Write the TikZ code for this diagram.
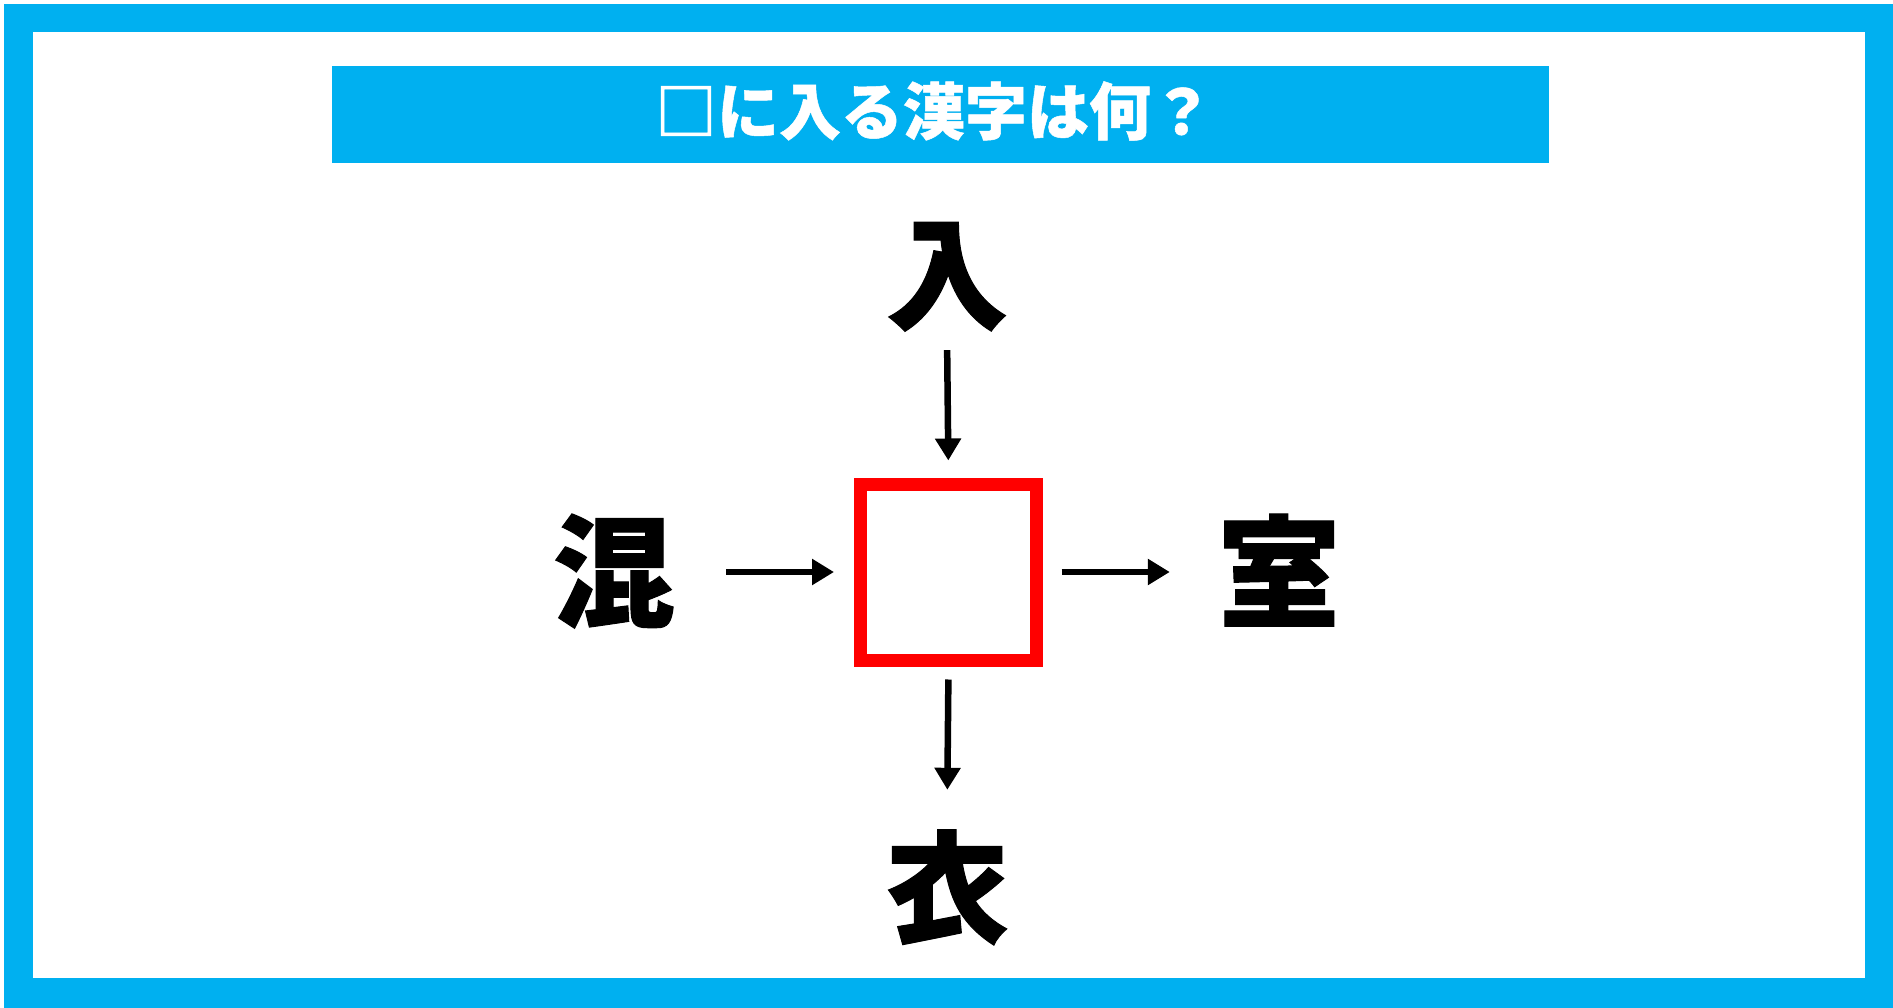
\documentclass[tikz,border=0pt]{standalone}
\usepackage{fontspec}
\newfontfamily\cjk{Noto Sans CJK JP}[BoldFeatures={FakeBold=0.8}]
\usetikzlibrary{arrows.meta}
\definecolor{frameblue}{HTML}{00B0F0}
\definecolor{boxred}{HTML}{FF0000}
\tikzset{
  kanji/.style={font=\cjk\bfseries\fontsize{122}{122}\selectfont, inner sep=0pt, text height=107pt, text depth=15pt, text width=130pt, align=center},
  arr/.style={line width=6.5pt, -{Triangle[length=22pt,width=25pt]}},
  answerbox/.style={draw=boxred, line width=13pt, minimum size=176pt, inner sep=0pt, fill=white},
}
\begin{document}
\begin{tikzpicture}[x=1pt,y=-1pt]
\useasboundingbox (0,0) rectangle (1893,1008);
\fill[frameblue] (4,4) rectangle (1893,1008);
\fill[white] (33,32) rectangle (1865,978);
\node[fill=frameblue, minimum width=1217pt, minimum height=97pt, inner sep=0pt] (bar) at (940.5,114.5) {};
\node[font=\cjk\bfseries\fontsize{62}{62}\selectfont, text=white, inner sep=0pt] (title) at (934,111) {□に入る漢字は何？};
\node[answerbox] (box) at (948.5,572) {};
\node[kanji] (top) at (947,274) {入};
\node[kanji] (left) at (614,572) {混};
\node[kanji] (right) at (1279,572) {室};
\node[kanji] (bottom) at (947,888) {衣};
\draw[arr, shorten <=15pt, shorten >=17pt] (top.south) -- (box.north);
\draw[arr, shorten <=47pt, shorten >=20pt] (left.east) -- (box.west);
\draw[arr, shorten <=18.5pt, shorten >=44pt] (box.east) -- (right.west);
\draw[arr, shorten <=13pt, shorten >=37pt] (box.south) -- (bottom.north);
\end{tikzpicture}
\end{document}
